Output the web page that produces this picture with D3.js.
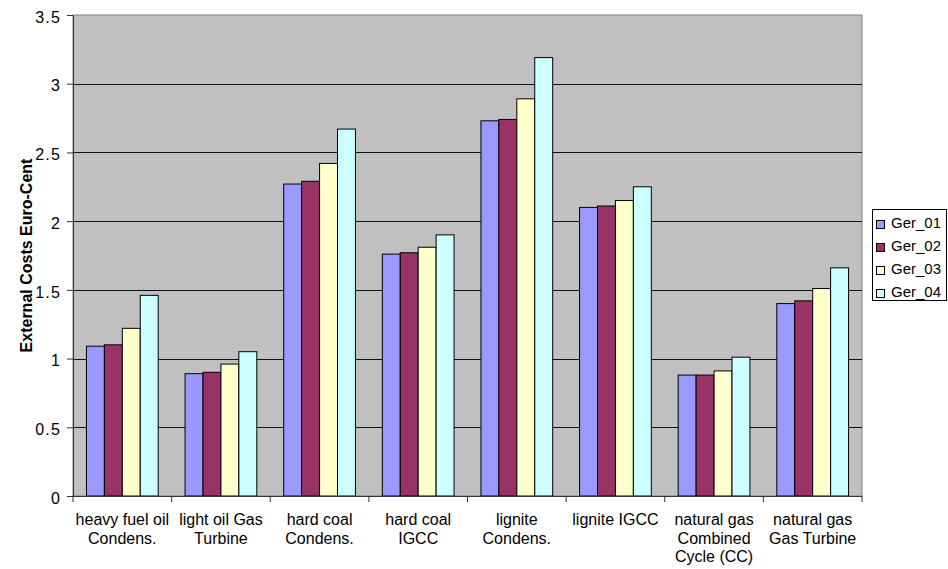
<!DOCTYPE html>
<html>
<head>
<meta charset="utf-8">
<script src="https://cdn.jsdelivr.net/npm/d3@7"></script>
<style>
  html, body { margin: 0; padding: 0; background: #fff; }
  text { font-family: "Liberation Sans", Arial, sans-serif; }
</style>
</head>
<body>
<svg id="chart" width="948" height="569"></svg>
<script>
// Power plant types (wrapped label lines)
const categories = [
  ["heavy fuel oil", "Condens."],
  ["light oil Gas", "Turbine"],
  ["hard coal", "Condens."],
  ["hard coal", "IGCC"],
  ["lignite", "Condens."],
  ["lignite IGCC"],
  ["natural gas", "Combined", "Cycle (CC)"],
  ["natural gas", "Gas Turbine"]
];
const seriesNames = ["Ger_01", "Ger_02", "Ger_03", "Ger_04"];
const ger01 = [1.09, 0.89, 2.27, 1.76, 2.73, 2.10, 0.88, 1.40];
const ger02 = [1.10, 0.90, 2.29, 1.77, 2.74, 2.11, 0.88, 1.42];
const ger03 = [1.22, 0.96, 2.42, 1.81, 2.89, 2.15, 0.91, 1.51];
const ger04 = [1.46, 1.05, 2.67, 1.90, 3.19, 2.25, 1.01, 1.66];
const seriesColors = ["#9999FF", "#993366", "#FFFFCC", "#CCFFFF"];
const yTicks = [0, 0.5, 1, 1.5, 2, 2.5, 3, 3.5];
const yTitle = "External Costs Euro-Cent";

const values = [ger01, ger02, ger03, ger04];
const svg = d3.select("#chart");
const plot = { left: 73, top: 15, right: 862, bottom: 496 };

const x0 = d3.scaleBand()
  .domain(d3.range(categories.length))
  .range([plot.left, plot.right])
  .paddingInner(0).paddingOuter(0);
// gap between clusters: 150% of a bar width
const barW = x0.bandwidth() / (seriesNames.length + 1.5);
const x1 = d3.scaleBand()
  .domain(d3.range(seriesNames.length))
  .range([barW * 0.75, barW * 0.75 + barW * seriesNames.length]);
const y = d3.scaleLinear().domain([0, 3.5]).range([plot.bottom, plot.top]);

// plot background
svg.append("rect")
  .attr("x", plot.left).attr("y", plot.top)
  .attr("width", plot.right - plot.left).attr("height", plot.bottom - plot.top)
  .attr("fill", "#C0C0C0").attr("stroke", "#808080").attr("stroke-width", 1);

// gridlines
svg.append("g").selectAll("line")
  .data(yTicks.filter(d => d > 0 && d < 3.5))
  .join("line")
  .attr("x1", plot.left).attr("x2", plot.right)
  .attr("y1", d => Math.round(y(d)) + 0.5).attr("y2", d => Math.round(y(d)) + 0.5)
  .attr("stroke", "#111").attr("stroke-width", 1);

// bars
const groups = svg.append("g").selectAll("g")
  .data(categories.map((c, i) => i))
  .join("g")
  .attr("transform", i => `translate(${x0(i)},0)`);
groups.selectAll("rect")
  .data(i => values.map((s, k) => ({ k, v: s[i] })))
  .join("rect")
  .attr("x", d => x1(d.k))
  .attr("width", x1.bandwidth())
  .attr("y", d => y(d.v))
  .attr("height", d => y(0) - y(d.v))
  .attr("fill", d => seriesColors[d.k])
  .attr("stroke", "#000").attr("stroke-width", 1);

// y axis
const yAxis = d3.axisLeft(y).tickValues(yTicks).tickSize(6).tickSizeOuter(0)
  .tickFormat(d => String(d));
const yg = svg.append("g").attr("transform", `translate(${plot.left},0)`).call(yAxis);
yg.attr("font-size", null).attr("font-family", null);
yg.select(".domain").attr("stroke", "#333");
yg.selectAll(".tick line").attr("stroke", "#333");
yg.selectAll(".tick text")
  .style("font-size", "16px").style("letter-spacing", "1.2px")
  .attr("fill", "#000")
  .attr("x", -12).attr("dy", "0.45em");

// x axis (ticks at category boundaries)
const xg = svg.append("g").attr("transform", `translate(0,${plot.bottom})`);
xg.append("line")
  .attr("x1", plot.left - 6).attr("x2", plot.right)
  .attr("y1", 0.5).attr("y2", 0.5).attr("stroke", "#333");
xg.selectAll("line.tk")
  .data(d3.range(categories.length + 1))
  .join("line").attr("class", "tk")
  .attr("x1", i => i < categories.length ? x0(i) : plot.right)
  .attr("x2", i => i < categories.length ? x0(i) : plot.right)
  .attr("y1", 0).attr("y2", 6).attr("stroke", "#333");
xg.selectAll("text")
  .data(categories)
  .join("text")
  .attr("x", (c, i) => x0(i) + x0.bandwidth() / 2)
  .attr("y", 29)
  .attr("text-anchor", "middle")
  .style("font-size", "16px")
  .attr("fill", "#000")
  .selectAll("tspan")
  .data(c => c)
  .join("tspan")
  .attr("x", function () { return d3.select(this.parentNode).attr("x"); })
  .attr("dy", (d, j) => j === 0 ? 0 : 18.5)
  .text(d => d);

// y axis title
svg.append("text")
  .attr("transform", `translate(32,${(plot.top + plot.bottom) / 2}) rotate(-90)`)
  .attr("text-anchor", "middle")
  .style("font-size", "16px").attr("font-weight", "bold")
  .text(yTitle);

// legend
const lg = svg.append("g").attr("transform", "translate(872,209)");
lg.append("rect").attr("x", 0.5).attr("y", 0.5).attr("width", 74).attr("height", 91)
  .attr("fill", "#fff").attr("stroke", "#000");
const items = lg.selectAll("g.item").data(seriesNames).join("g").attr("class", "item")
  .attr("transform", (d, i) => `translate(0,${14 + i * 23})`);
items.append("rect").attr("x", 4.5).attr("y", -2.5).attr("width", 8).attr("height", 8)
  .attr("fill", (d, i) => seriesColors[i]).attr("stroke", "#000");
items.append("text").attr("x", 19).attr("y", 5)
  .style("font-size", "15px").text(d => d);
</script>
</body>
</html>
